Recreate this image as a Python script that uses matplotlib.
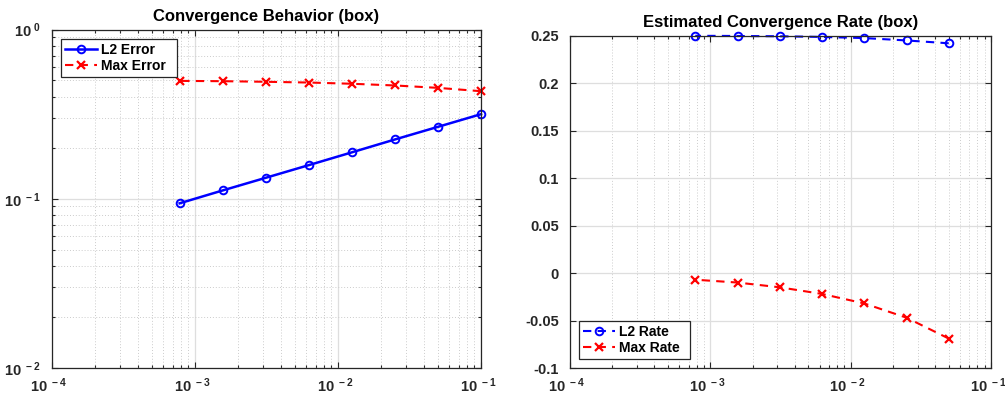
import matplotlib
matplotlib.use("Agg")
import matplotlib.pyplot as plt
import matplotlib.transforms as mtransforms
from matplotlib.ticker import FixedLocator, LogLocator, NullFormatter, FuncFormatter
import numpy as np

plt.rcParams['font.family'] = ['Liberation Sans', 'DejaVu Sans']
plt.rcParams['font.weight'] = 'bold'
plt.rcParams['mathtext.fontset'] = 'custom'
plt.rcParams['mathtext.rm'] = 'Liberation Sans:bold'
plt.rcParams['mathtext.bf'] = 'Liberation Sans:bold'
plt.rcParams['mathtext.default'] = 'bf'
plt.rcParams['axes.unicode_minus'] = False

# Data
h = [0.1, 0.05, 0.025, 0.0125, 0.00625, 0.003125, 0.0015625, 0.00078125]
l2_error = [0.316, 0.266, 0.224, 0.188, 0.158, 0.133, 0.112, 0.094]
max_error = [0.432, 0.452, 0.467, 0.478, 0.486, 0.491, 0.495, 0.497]
h_rate = [0.05, 0.025, 0.0125, 0.00625, 0.003125, 0.0015625, 0.00078125]
l2_rate = [0.242, 0.245, 0.2475, 0.2487, 0.2494, 0.2497, 0.2499]
max_rate = [-0.069, -0.047, -0.032, -0.022, -0.015, -0.010, -0.007]

titles = ["Convergence Behavior (box)", "Estimated Convergence Rate (box)"]
left_legend = ["L2 Error", "Max Error"]
right_legend = ["L2 Rate", "Max Rate"]
rate_yticks = [-0.1, -0.05, 0, 0.05, 0.1, 0.15, 0.2, 0.25]

W, H = 1005, 394
fig = plt.figure(figsize=(W/100, H/100), dpi=100)
ax1 = fig.add_axes([52/W, 1-368/H, (481-52)/W, (368-29.5)/H])
ax2 = fig.add_axes([570/W, 1-368/H, (991-570)/W, (368-35.7)/H])

def pow_fmt(v, pos):
    e = int(round(np.log10(v)))
    return r'$10^{\;%d}$' % e

def style(ax, ylab_size):
    ax.set_axisbelow(True)
    ax.grid(True, which='major', color='#dedede', linewidth=0.9, linestyle='-')
    ax.tick_params(which='both', direction='in', top=True, right=True,
                   width=0.8, colors='#262626')
    ax.tick_params(axis='x', which='major', labelsize=10.5, pad=6)
    ax.tick_params(axis='y', which='major', labelsize=ylab_size, pad=8)
    ax.tick_params(which='major', length=4)
    ax.tick_params(which='minor', length=2.5)
    for s in ax.spines.values():
        s.set_color('#262626')
        s.set_linewidth(0.9)
    shift = mtransforms.ScaledTranslation(-3/100, 0, fig.dpi_scale_trans)
    for lab in ax.get_xticklabels():
        lab.set_fontweight('bold')
        lab.set_transform(lab.get_transform() + shift)
    for lab in ax.get_yticklabels():
        lab.set_fontweight('bold')

minor_grid = dict(color='#cccccc', linewidth=0.7, linestyle=(0, (1, 2)))

# Left plot
ax1.loglog(h, l2_error, '-o', color='#0000ff', linewidth=1.8, markersize=5.5,
           markerfacecolor='none', markeredgewidth=1.4, label=left_legend[0], clip_on=False)
ax1.loglog(h, max_error, '--x', color='#ff0000', linewidth=1.5, markersize=6,
           markeredgewidth=1.6, label=left_legend[1], dashes=(4, 3), clip_on=False)
ax1.set_xlim(1e-4, 1e-1)
ax1.set_ylim(1e-2, 1e0)
ax1.xaxis.set_major_locator(FixedLocator([1e-4, 1e-3, 1e-2, 1e-1]))
ax1.yaxis.set_major_locator(FixedLocator([1e-2, 1e-1, 1e0]))
ax1.xaxis.set_minor_locator(LogLocator(base=10, subs=np.arange(2, 10)))
ax1.yaxis.set_minor_locator(LogLocator(base=10, subs=np.arange(2, 10)))
ax1.xaxis.set_minor_formatter(NullFormatter())
ax1.yaxis.set_minor_formatter(NullFormatter())
ax1.xaxis.set_major_formatter(FuncFormatter(pow_fmt))
ax1.yaxis.set_major_formatter(FuncFormatter(pow_fmt))
ax1.grid(True, which='minor', **minor_grid)
style(ax1, 10.5)
ax1.set_title(titles[0], fontsize=12, fontweight='bold', pad=6)
leg1 = ax1.legend(loc='upper left', fontsize=10, frameon=True, fancybox=False,
                  edgecolor='#262626', framealpha=1, borderpad=0.3,
                  handlelength=2.3, handletextpad=0.3, labelspacing=0.15,
                  bbox_to_anchor=(0.021, 0.8685, 0.27, 0.1035), mode='expand',
                  borderaxespad=0)
leg1.get_frame().set_linewidth(0.9)
for t in leg1.get_texts():
    t.set_fontweight('bold')

# Right plot
ax2.semilogx(h_rate, l2_rate, '--o', color='#0000ff', linewidth=1.5, markersize=5.5,
             markerfacecolor='none', markeredgewidth=1.4, label=right_legend[0],
             dashes=(4, 3), clip_on=False)
ax2.semilogx(h_rate, max_rate, '--x', color='#ff0000', linewidth=1.5, markersize=6,
             markeredgewidth=1.6, label=right_legend[1], dashes=(4, 3), clip_on=False)
ax2.set_xlim(1e-4, 1e-1)
ax2.set_ylim(-0.1, 0.25)
ax2.xaxis.set_major_locator(FixedLocator([1e-4, 1e-3, 1e-2, 1e-1]))
ax2.xaxis.set_minor_locator(LogLocator(base=10, subs=np.arange(2, 10)))
ax2.xaxis.set_minor_formatter(NullFormatter())
ax2.xaxis.set_major_formatter(FuncFormatter(pow_fmt))
ax2.yaxis.set_major_locator(FixedLocator(rate_yticks))
ax2.yaxis.set_major_formatter(FuncFormatter(lambda v, p: ('%g' % round(v, 4)) if abs(v) > 1e-9 else '0'))
ax2.grid(True, which='minor', axis='x', **minor_grid)
style(ax2, 10.5)
ax2.set_title(titles[1], fontsize=12, fontweight='bold', pad=6)
leg2 = ax2.legend(loc='lower left', fontsize=10, frameon=True, fancybox=False,
                  edgecolor='#262626', framealpha=1, borderpad=0.3,
                  handlelength=2.3, handletextpad=0.3, labelspacing=0.15,
                  bbox_to_anchor=(0.0214, 0.027, 0.264, 0.105), mode='expand',
                  borderaxespad=0)
leg2.get_frame().set_linewidth(0.9)
for t in leg2.get_texts():
    t.set_fontweight('bold')

fig.savefig('out.png', dpi=100)
